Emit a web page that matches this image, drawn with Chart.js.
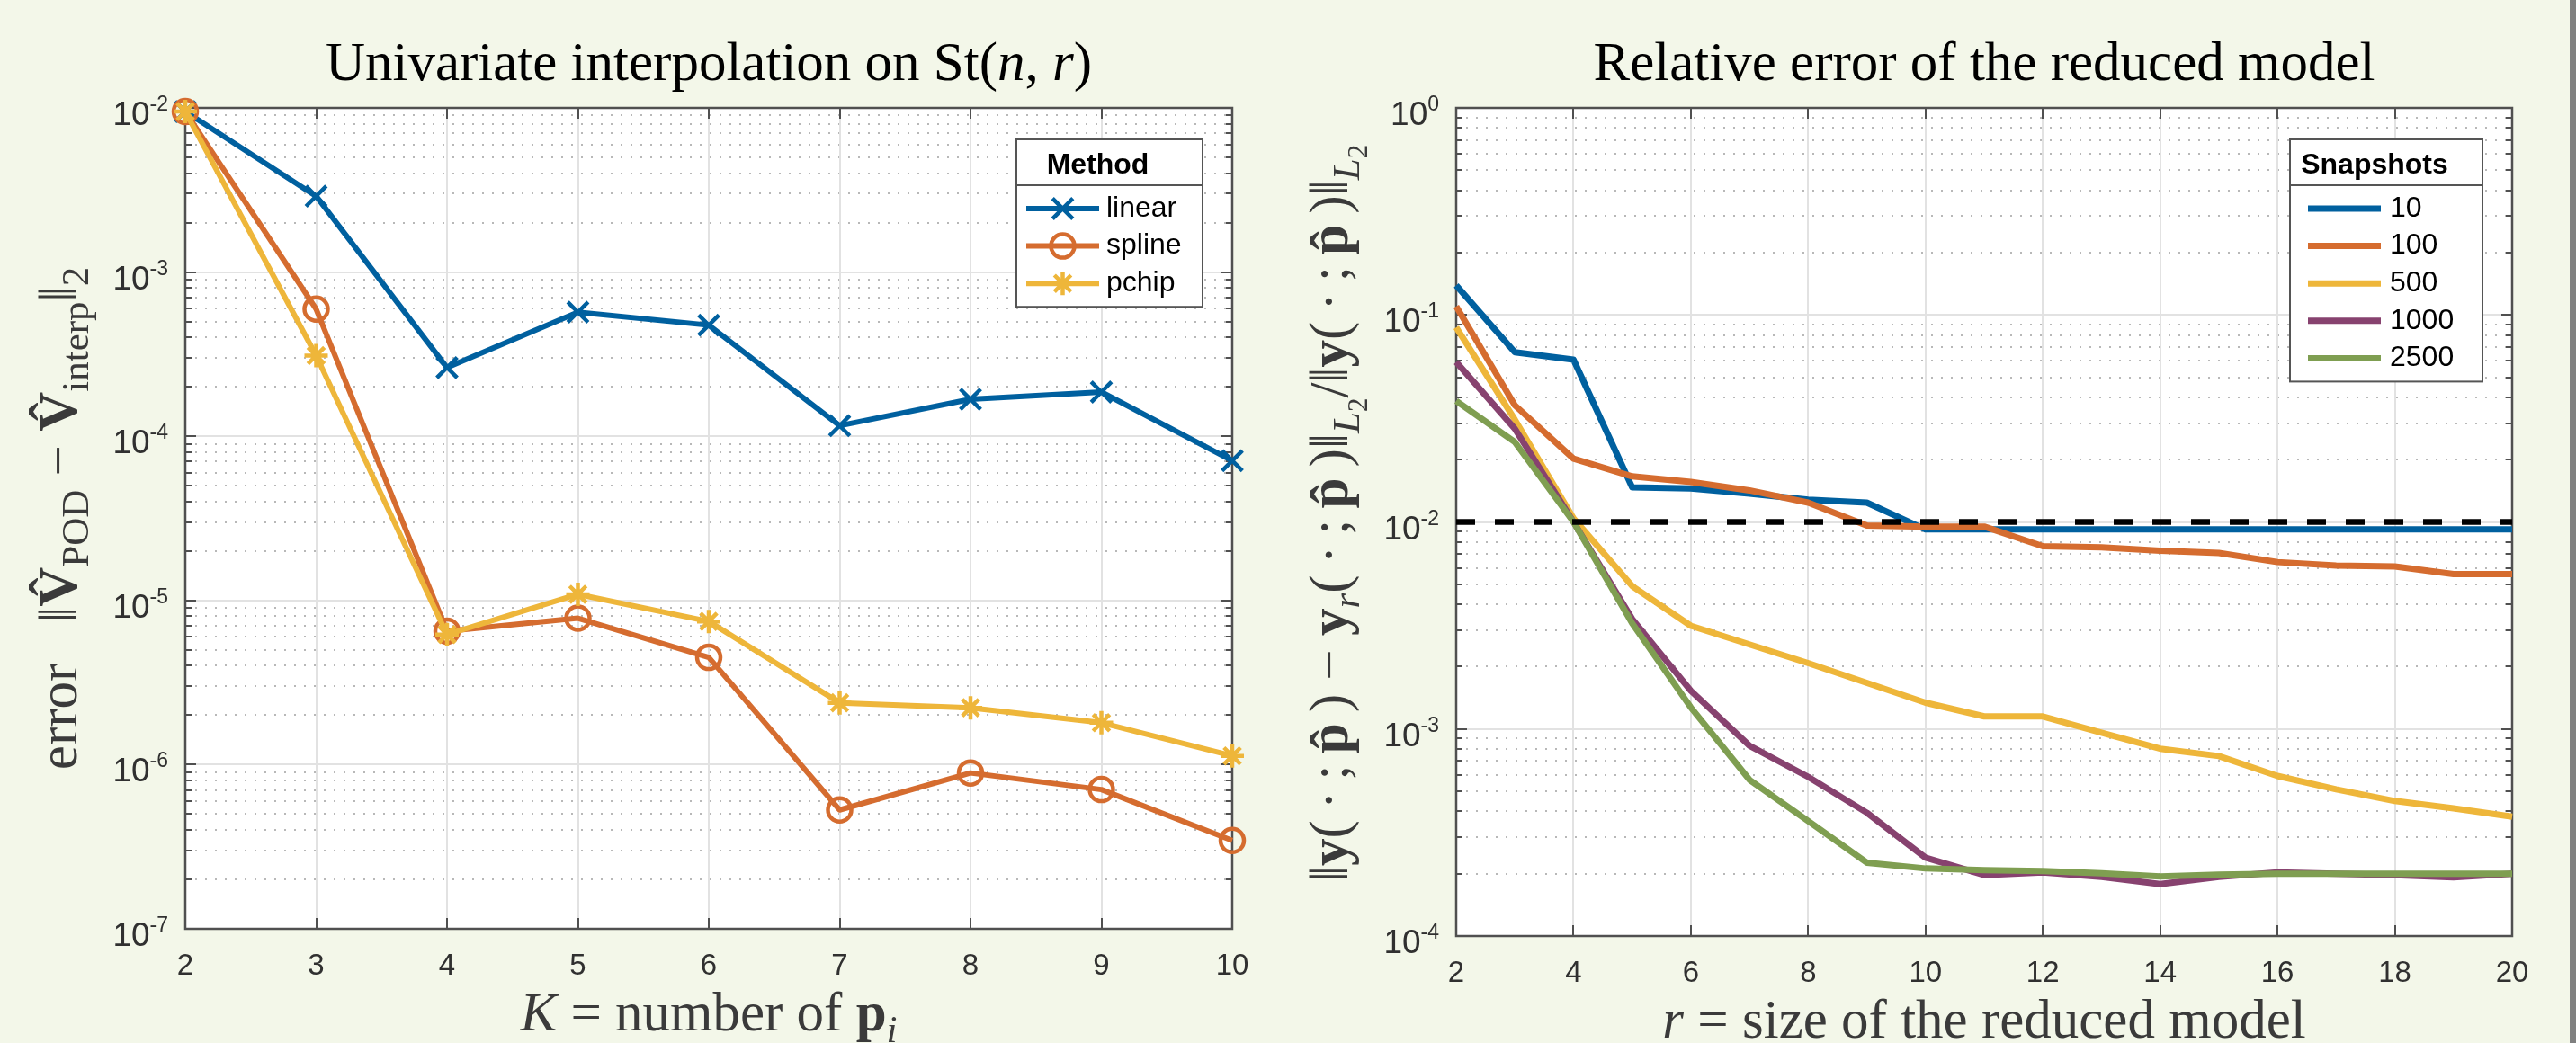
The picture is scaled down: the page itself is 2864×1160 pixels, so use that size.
<!DOCTYPE html>
<html>
<head>
<meta charset="utf-8">
<title>Interpolation on St(n,r) and reduced model error</title>
<script src="https://cdn.jsdelivr.net/npm/chart.js@4.4.1/dist/chart.umd.min.js"></script>
<style>
  html, body { margin: 0; padding: 0; background: #f3f7e9; overflow: hidden; }
  #leftChart { position: absolute; left: 0; top: 0; }
  #rightChart { position: absolute; left: 1432px; top: 0; }
  #edge { position: absolute; left: 2857px; top: 0; width: 7px; height: 1160px; background: #808080; }
</style>
</head>
<body>
<canvas id="leftChart" width="1432" height="1160"></canvas>
<canvas id="rightChart" width="1425" height="1160"></canvas>
<div id="edge"></div>
<script>
// ================= DATA =================
// left: interpolation error vs number of sample points K
const kValues = [2, 3, 4, 5, 6, 7, 8, 9, 10];
const errLinear = [9.5e-3, 2.9e-3, 2.62e-4, 5.7e-4, 4.75e-4, 1.16e-4, 1.68e-4, 1.86e-4, 7.1e-5];
const errSpline = [9.5e-3, 5.95e-4, 6.5e-6, 7.8e-6, 4.5e-6, 5.3e-7, 8.9e-7, 7.05e-7, 3.45e-7];
const errPchip  = [9.5e-3, 3.1e-4, 6.2e-6, 1.09e-5, 7.45e-6, 2.38e-6, 2.22e-6, 1.8e-6, 1.13e-6];
const methodNames = ["linear", "spline", "pchip"];
const leftXTicks = [2, 3, 4, 5, 6, 7, 8, 9, 10];
const leftYTicks = [1e-7, 1e-6, 1e-5, 1e-4, 1e-3, 1e-2];
const leftYTickExponents = ["-7", "-6", "-5", "-4", "-3", "-2"];

// right: relative error vs reduced model size r
const rValues = [2, 3, 4, 5, 6, 7, 8, 9, 10, 11, 12, 13, 14, 15, 16, 17, 18, 19, 20];
const relErr10   = [0.139, 0.066, 0.0608, 0.0147, 0.0145, 0.0137, 0.0128, 0.0124, 0.0092, 0.0092, 0.0092, 0.0092, 0.0092, 0.0092, 0.0092, 0.0092, 0.0092, 0.0092, 0.0092];
const relErr100  = [0.110, 0.0366, 0.0202, 0.0166, 0.0156, 0.0142, 0.0124, 0.0096, 0.0095, 0.0095, 0.00763, 0.00753, 0.00726, 0.00708, 0.0064, 0.00615, 0.0061, 0.0056, 0.0056];
const relErr500  = [0.0871, 0.0312, 0.0104, 0.0049, 0.00315, 0.00256, 0.00208, 0.00167, 0.00134, 0.00115, 0.00115, 0.00096, 0.000803, 0.00074, 0.000593, 0.000511, 0.000449, 0.000414, 0.000377];
const relErr1000 = [0.0592, 0.0282, 0.0100, 0.0034, 0.00153, 0.00083, 0.000587, 0.000394, 0.000239, 0.000197, 0.000203, 0.000193, 0.000178, 0.000193, 0.000203, 0.0002, 0.000197, 0.000192, 0.0002];
const relErr2500 = [0.0384, 0.0243, 0.0100, 0.00324, 0.00127, 0.000568, 0.000359, 0.000226, 0.000212, 0.000208, 0.000206, 0.000201, 0.000194, 0.000198, 0.0002, 0.0002, 0.0002, 0.0002, 0.0002];
const tolerance = 0.01;
const snapshotNames = ["10", "100", "500", "1000", "2500"];
const rightXTicks = [2, 4, 6, 8, 10, 12, 14, 16, 18, 20];
const rightYTicks = [1e-4, 1e-3, 1e-2, 1e-1, 1];
const rightYTickExponents = ["-4", "-3", "-2", "-1", "0"];

// ================= STYLE =================
const BLUE = "#00609f";
const ORANGE = "#d56c2f";
const YELLOW = "#eeb63a";
const PURPLE = "#87426f";
const GREEN = "#7f9e51";
const SERIF = "'Liberation Serif', 'Times New Roman', serif";
const SANS = "'Liberation Sans', Arial, sans-serif";
const FS = 61;
const TICK_COLOR = "#303030";

const pts = (xs, ys) => xs.map((x, i) => ({ x, y: ys[i] }));

// text runs for the LaTeX-ish labels
const R = t => ({ t, style: "", size: 1, dy: 0 });
const I = t => ({ t, style: "italic", size: 1, dy: 0 });
const B = t => ({ t, style: "bold", size: 1, dy: 0 });
const SUB = t => ({ t, style: "", size: 0.7, dy: 0.22 });
const ISUB = t => ({ t, style: "italic", size: 0.7, dy: 0.22 });
const SUBSUB = t => ({ t, style: "", size: 0.5, dy: 0.36 });
const TS = "\u2009"; // thin space

function drawRich(ctx, runs, x, y, angle, color) {
  ctx.save();
  ctx.translate(x, y);
  ctx.rotate(angle);
  ctx.fillStyle = color;
  ctx.textBaseline = "alphabetic";
  ctx.textAlign = "left";
  const fonts = runs.map(r => `${r.style} ${Math.round(FS * r.size)}px ${SERIF}`);
  let total = 0;
  const widths = runs.map((r, i) => {
    ctx.font = fonts[i];
    const w = ctx.measureText(r.t).width;
    total += w;
    return w;
  });
  let cx = -total / 2;
  runs.forEach((r, i) => {
    ctx.font = fonts[i];
    ctx.fillText(r.t, cx, r.dy * FS);
    cx += widths[i];
  });
  ctx.restore();
}

// ================= DECORATION PLUGIN =================
function decor(cfg) {
  return {
    id: "decor",
    beforeDatasetsDraw(chart) {
      const { ctx, chartArea: a, scales: { x, y } } = chart;
      ctx.save();
      ctx.fillStyle = "#fff";
      ctx.fillRect(a.left, a.top, a.width, a.height);

      // minor dotted grid (log decades)
      const e0 = Math.round(Math.log10(y.min));
      const e1 = Math.round(Math.log10(y.max));
      const minor = [];
      for (let e = e0; e < e1; e++) {
        for (let m = 2; m <= 9; m++) minor.push(m * Math.pow(10, e));
      }
      ctx.strokeStyle = "#b8b8b8";
      ctx.lineWidth = 2;
      ctx.setLineDash([2, 9]);
      minor.forEach(v => {
        const py = Math.round(y.getPixelForValue(v));
        ctx.beginPath(); ctx.moveTo(a.left, py); ctx.lineTo(a.right, py); ctx.stroke();
      });

      // major grid
      ctx.setLineDash([]);
      ctx.strokeStyle = "#e2e2e2";
      cfg.yTicks.forEach(v => {
        const py = Math.round(y.getPixelForValue(v));
        ctx.beginPath(); ctx.moveTo(a.left, py); ctx.lineTo(a.right, py); ctx.stroke();
      });
      cfg.xTicks.forEach(v => {
        const px = Math.round(x.getPixelForValue(v));
        ctx.beginPath(); ctx.moveTo(px, a.top); ctx.lineTo(px, a.bottom); ctx.stroke();
      });

      // box and inward ticks
      ctx.strokeStyle = "#505050";
      ctx.lineWidth = 2.5;
      ctx.strokeRect(a.left, a.top, a.width, a.height);
      ctx.lineWidth = 2;
      ctx.beginPath();
      cfg.xTicks.forEach(v => {
        const px = Math.round(x.getPixelForValue(v));
        ctx.moveTo(px, a.bottom); ctx.lineTo(px, a.bottom - 12);
        ctx.moveTo(px, a.top); ctx.lineTo(px, a.top + 12);
      });
      cfg.yTicks.forEach(v => {
        const py = Math.round(y.getPixelForValue(v));
        ctx.moveTo(a.left, py); ctx.lineTo(a.left + 12, py);
        ctx.moveTo(a.right, py); ctx.lineTo(a.right - 12, py);
      });
      minor.forEach(v => {
        const py = Math.round(y.getPixelForValue(v));
        ctx.moveTo(a.left, py); ctx.lineTo(a.left + 7, py);
        ctx.moveTo(a.right, py); ctx.lineTo(a.right - 7, py);
      });
      ctx.stroke();

      // y tick labels: 10 with raised exponent
      ctx.fillStyle = TICK_COLOR;
      ctx.textAlign = "right";
      ctx.textBaseline = "alphabetic";
      cfg.yTicks.forEach((v, i) => {
        const py = y.getPixelForValue(v);
        const right = a.left - 19;
        ctx.font = `23px ${SANS}`;
        const ew = ctx.measureText(cfg.yExponents[i]).width;
        ctx.fillText(cfg.yExponents[i], right, py + 3);
        ctx.font = `37px ${SANS}`;
        ctx.fillText("10", right - ew, py + 19);
      });
      ctx.restore();
    },
    afterDraw(chart) {
      const { ctx, chartArea: a } = chart;
      const cxm = (a.left + a.right) / 2;
      const cym = (a.top + a.bottom) / 2;
      drawRich(ctx, cfg.title, cxm, 89, 0, "#000");
      drawRich(ctx, cfg.xLabel, cxm, a.bottom + 113, 0, "#3a3a3a");
      drawRich(ctx, cfg.yLabel, a.left - 121, cym + cfg.yLabelShift, -Math.PI / 2, "#3a3a3a");

      // legend box
      const L = cfg.legend;
      const n = chart.data.datasets.filter(d => !d.noLegend).length;
      const h = 77 + (n - 1) * 41.6 + 26;
      const bx = a.right - 33 - L.width;
      const by = a.top + 35;
      ctx.save();
      ctx.fillStyle = "#fff";
      ctx.fillRect(bx, by, L.width, h);
      ctx.strokeStyle = "#555";
      ctx.lineWidth = 2;
      ctx.strokeRect(bx, by, L.width, h);
      ctx.beginPath(); ctx.moveTo(bx, by + 51); ctx.lineTo(bx + L.width, by + 51); ctx.stroke();
      ctx.fillStyle = "#000";
      ctx.font = `bold 32px ${SANS}`;
      ctx.textAlign = "center";
      ctx.textBaseline = "alphabetic";
      ctx.fillText(L.title, bx + L.width / 2 - 13, by + 38);
      let row = 0;
      chart.data.datasets.forEach(ds => {
        if (ds.noLegend) return;
        const ry = by + 77 + row * 41.6;
        row++;
        ctx.strokeStyle = ds.borderColor;
        ctx.lineWidth = ds.borderWidth;
        ctx.beginPath(); ctx.moveTo(bx + L.lineX0, ry); ctx.lineTo(bx + L.lineX1, ry); ctx.stroke();
        if (ds.pointRadius > 0) {
          ctx.fillStyle = "rgba(0,0,0,0)";
          ctx.lineWidth = ds.pointBorderWidth;
          Chart.helpers.drawPoint(ctx, { pointStyle: ds.pointStyle, radius: ds.pointRadius, rotation: 0, borderWidth: ds.pointBorderWidth },
            bx + (L.lineX0 + L.lineX1) / 2, ry);
        }
        ctx.fillStyle = "#000";
        ctx.font = `32px ${SANS}`;
        ctx.textAlign = "left";
        ctx.textBaseline = "middle";
        ctx.fillText(ds.label, bx + L.textX, ry);
      });
      ctx.restore();
    }
  };
}

function axisOptions(xTicks, yTicks, xMin, xMax, yMin, yMax, yWidth, xHeight) {
  return {
    x: {
      type: "linear", min: xMin, max: xMax,
      afterBuildTicks: s => { s.ticks = xTicks.map(v => ({ value: v })); },
      afterFit: s => { s.height = xHeight; },
      grid: { display: false, drawTicks: false },
      border: { display: false },
      ticks: { font: { family: SANS, size: 33 }, color: TICK_COLOR, padding: 22, autoSkip: false,
               maxRotation: 0, minRotation: 0, callback: (v, i) => String(xTicks[i]) }
    },
    y: {
      type: "logarithmic", min: yMin, max: yMax,
      afterBuildTicks: s => { s.ticks = yTicks.map(v => ({ value: v })); },
      afterFit: s => { s.width = yWidth; },
      grid: { display: false, drawTicks: false },
      border: { display: false },
      ticks: { display: false }
    }
  };
}

// ================= LEFT CHART =================
new Chart(document.getElementById("leftChart"), {
  type: "line",
  data: {
    datasets: [
      { label: methodNames[0], data: pts(kValues, errLinear), borderColor: BLUE, borderWidth: 6,
        pointStyle: "crossRot", pointRadius: 16, pointBorderWidth: 4.5, pointBorderColor: BLUE,
        pointBackgroundColor: "rgba(0,0,0,0)", order: 2 },
      { label: methodNames[1], data: pts(kValues, errSpline), borderColor: ORANGE, borderWidth: 6,
        pointStyle: "circle", pointRadius: 13, pointBorderWidth: 4.5, pointBorderColor: ORANGE,
        pointBackgroundColor: "rgba(0,0,0,0)", order: 1 },
      { label: methodNames[2], data: pts(kValues, errPchip), borderColor: YELLOW, borderWidth: 6,
        pointStyle: "star", pointRadius: 13, pointBorderWidth: 4.5, pointBorderColor: YELLOW,
        pointBackgroundColor: "rgba(0,0,0,0)", order: 0 }
    ].map(d => Object.assign(d, { clip: false, tension: 0, borderJoinStyle: "round", pointHoverRadius: d.pointRadius }))
  },
  options: {
    responsive: false,
    animation: false,
    layout: { padding: { top: 120, right: 62, left: 0, bottom: 0 } },
    plugins: { legend: { display: false }, tooltip: { enabled: false } },
    scales: axisOptions(leftXTicks, leftYTicks, 2, 10, 1e-7, 1e-2, 206, 127)
  },
  plugins: [decor({
    xTicks: leftXTicks, yTicks: leftYTicks, yExponents: leftYTickExponents,
    title: [R("Univariate interpolation on St("), I("n"), R(", "), I("r"), R(")")],
    xLabel: [I("K"), R(" = number of "), B("p"), ISUB("i")],
    yLabel: [R("error"), R("   "), R("‖"), B("V\u0302"), SUB("POD"), R(" − "), B("V\u0302"), SUB("interp"), R("‖"), SUB("2")],
    yLabelShift: 0,
    legend: { title: "Method", width: 207, lineX0: 11, lineX1: 92, textX: 100 }
  })]
});

// ================= RIGHT CHART =================
const snapshotSeries = [relErr10, relErr100, relErr500, relErr1000, relErr2500];
const snapshotColors = [BLUE, ORANGE, YELLOW, PURPLE, GREEN];
const rightDatasets = snapshotSeries.map((vals, i) => ({
  label: snapshotNames[i], data: pts(rValues, vals), borderColor: snapshotColors[i], borderWidth: 7,
  pointRadius: 0, order: snapshotSeries.length - i
}));
rightDatasets.push({
  label: "tolerance", noLegend: true,
  data: pts([rValues[0], rValues[rValues.length - 1]], [tolerance, tolerance]),
  borderColor: "#000", borderWidth: 6.5, borderDash: [21, 22], pointRadius: 0, order: -1
});
rightDatasets.forEach(d => Object.assign(d, { clip: false, tension: 0, borderJoinStyle: "round" }));

const arg = [R("(" + TS + "·" + TS + ";" + TS), B("p\u0302"), R(TS + ")")];

new Chart(document.getElementById("rightChart"), {
  type: "line",
  data: { datasets: rightDatasets },
  options: {
    responsive: false,
    animation: false,
    layout: { padding: { top: 120, right: 64, left: 0, bottom: 0 } },
    plugins: { legend: { display: false }, tooltip: { enabled: false } },
    scales: axisOptions(rightXTicks, rightYTicks, 2, 20, 1e-4, 1, 187, 119)
  },
  plugins: [decor({
    xTicks: rightXTicks, yTicks: rightYTicks, yExponents: rightYTickExponents,
    title: [R("Relative error of the reduced model")],
    xLabel: [I("r"), R(" = size of the reduced model")],
    yLabel: [R("‖"), B("y"), ...arg, R(" − "), B("y"), ISUB("r"), ...arg, R("‖"),
             ISUB("L"), SUBSUB("2"), R("/‖"), B("y"), ...arg, R("‖"), ISUB("L"), SUBSUB("2")],
    yLabelShift: -10,
    legend: { title: "Snapshots", width: 214, lineX0: 20, lineX1: 101, textX: 111 }
  })]
});
</script>
</body>
</html>
